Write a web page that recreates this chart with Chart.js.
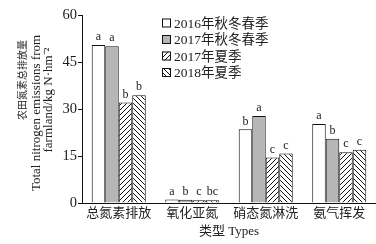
<!DOCTYPE html>
<html>
<head>
<meta charset="utf-8">
<script src="https://cdn.jsdelivr.net/npm/chart.js@4"></script>
<style>
  html, body { margin: 0; padding: 0; background: #fff; }
  #wrap { width: 376px; height: 244px; }
</style>
</head>
<body>
<div id="wrap"><canvas id="barChart" width="376" height="244"></canvas></div>
<script>
const categories = ['总氮素排放', '氧化亚氮', '硝态氮淋洗', '氨气挥发'];
const seriesNames = ['2016年秋冬春季', '2017年秋冬春季', '2017年夏季', '2018年夏季'];
const v2016aw = [50.4, 1.1, 23.5, 25.2];
const v2017aw = [50.0, 1.0, 27.8, 20.5];
const v2017su = [32.1, 0.9, 14.5, 16.2];
const v2018su = [34.4, 0.9, 15.8, 17.0];
const sig2016aw = ['a', 'a', 'b', 'a'];
const sig2017aw = ['a', 'b', 'a', 'b'];
const sig2017su = ['b', 'c', 'c', 'c'];
const sig2018su = ['b', 'bc', 'c', 'c'];
const yTicks = [0, 15, 30, 45, 60];
const yTitle = ['农田氮素总排放量', 'Total nitrogen emissions from', 'farmland/kg N·hm⁻²'];

const FONT = '"Liberation Serif", "Noto Sans CJK SC", serif';

function hatch(dir) {
  const s = 5;
  const c = document.createElement('canvas');
  c.width = s; c.height = s;
  const g = c.getContext('2d');
  g.fillStyle = '#fff';
  g.fillRect(0, 0, s, s);
  g.strokeStyle = '#111';
  g.lineWidth = 1;
  g.beginPath();
  if (dir === '/') {
    g.moveTo(0, s); g.lineTo(s, 0);
    g.moveTo(-1, 1); g.lineTo(1, -1);
    g.moveTo(s - 1, s + 1); g.lineTo(s + 1, s - 1);
  } else {
    g.moveTo(0, 0); g.lineTo(s, s);
    g.moveTo(-1, s - 1); g.lineTo(1, s + 1);
    g.moveTo(s - 1, -1); g.lineTo(s + 1, 1);
  }
  g.stroke();
  return g.createPattern(c, 'repeat');
}

const fills = ['#ffffff', '#b6b6b6', hatch('/'), hatch('\\')];
const sigs = [sig2016aw, sig2017aw, sig2017su, sig2018su];

// letters above bars
const letterPlugin = {
  id: 'letters',
  afterDatasetsDraw(chart) {
    const ctx = chart.ctx;
    ctx.save();
    ctx.font = '12px ' + FONT;
    ctx.fillStyle = '#222';
    ctx.textAlign = 'center';
    ctx.textBaseline = 'bottom';
    chart.data.datasets.forEach((ds, i) => {
      chart.getDatasetMeta(i).data.forEach((bar, j) => {
        ctx.fillText(sigs[i][j], bar.x, bar.y - 2);
      });
    });
    ctx.restore();
  }
};

// legend inside the plot, top right
const legendPlugin = {
  id: 'boxLegend',
  afterDraw(chart) {
    const ctx = chart.ctx;
    ctx.save();
    ctx.font = '13.5px ' + FONT;
    ctx.textBaseline = 'middle';
    ctx.textAlign = 'left';
    chart.data.datasets.forEach((ds, i) => {
      const y = 23 + i * 16.5;
      ctx.fillStyle = ds.backgroundColor;
      ctx.fillRect(162, y - 4.5, 9, 9);
      ctx.strokeStyle = '#111';
      ctx.lineWidth = 1;
      ctx.strokeRect(162.5, y - 4, 8, 8);
      ctx.fillStyle = '#222';
      ctx.fillText(ds.label, 174, y + 1);
    });
    ctx.restore();
  }
};

// rotated y title, the Chinese line is set smaller than the English ones
const yTitlePlugin = {
  id: 'yTitle',
  afterDraw(chart) {
    const ctx = chart.ctx;
    const rows = [
      { x: 23, y: 80, size: 10 },
      { x: 36.5, y: 113, size: 13 },
      { x: 48.5, y: 100, size: 13 }
    ];
    ctx.save();
    ctx.fillStyle = '#222';
    ctx.textAlign = 'center';
    ctx.textBaseline = 'middle';
    rows.forEach((r, i) => {
      ctx.save();
      ctx.translate(r.x, r.y);
      ctx.rotate(-Math.PI / 2);
      ctx.font = r.size + 'px ' + FONT;
      ctx.fillText(yTitle[i], 0, 0);
      ctx.restore();
    });
    ctx.restore();
  }
};

const ctx = document.getElementById('barChart').getContext('2d');
const barChart = new Chart(ctx, {
  type: 'bar',
  data: {
    labels: categories,
    datasets: [v2016aw, v2017aw, v2017su, v2018su].map((d, i) => ({
      label: seriesNames[i],
      data: d,
      backgroundColor: fills[i],
      borderColor: '#111',
      borderWidth: 1,
      categoryPercentage: 0.735,
      barPercentage: 1.0
    }))
  },
  options: {
    responsive: false,
    animation: false,
    layout: { padding: { left: 16, right: 0, top: 15, bottom: 0 } },
    plugins: {
      legend: { display: false },
      tooltip: { enabled: false }
    },
    scales: {
      x: {
        grid: { display: false, drawTicks: false },
        border: { display: true, color: '#111', width: 1 },
        ticks: { color: '#222', font: { family: FONT, size: 13 }, padding: 3 },
        title: {
          display: true,
          text: '类型 Types',
          color: '#222',
          font: { family: FONT, size: 13 },
          padding: { top: 0, bottom: 5 }
        },
        afterFit(s) { s.height = 244 - 203; }
      },
      y: {
        min: 0,
        max: 60,
        afterBuildTicks(s) { s.ticks = yTicks.map(v => ({ value: v })); },
        grid: { display: true, drawOnChartArea: false, drawTicks: true, tickLength: 4, color: '#111' },
        border: { display: true, color: '#111', width: 1 },
        ticks: { color: '#1a1a1a', font: { family: FONT, size: 14.5 }, padding: 1 },
        title: { display: false },
        afterFit(s) { s.width = 82 - 16; }
      }
    }
  },
  plugins: [letterPlugin, legendPlugin, yTitlePlugin]
});
</script>
</body>
</html>
